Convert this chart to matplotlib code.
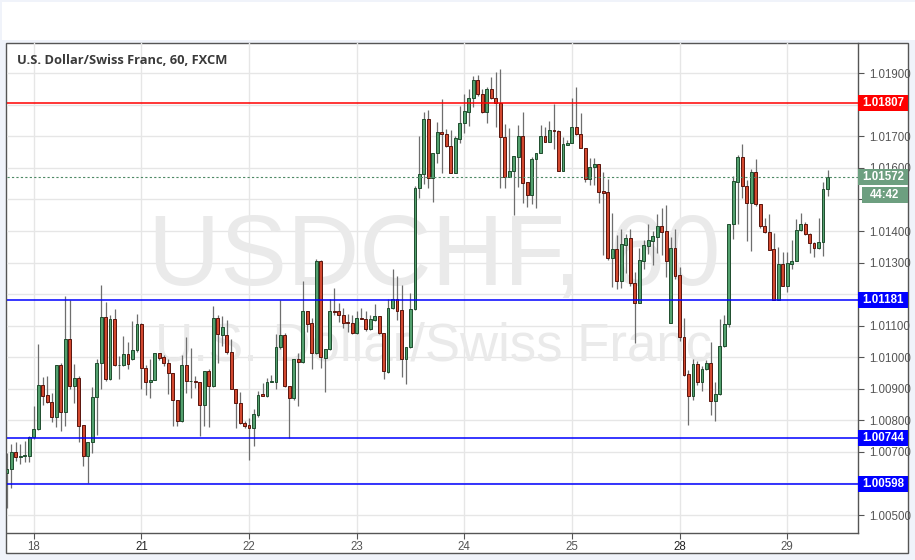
import matplotlib
matplotlib.use("Agg")
import matplotlib.pyplot as plt
import matplotlib.transforms as mtransforms
from matplotlib.patches import Rectangle
import numpy as np

# hourly candles (USDCHF, 60)
opens = [
    1.00632, 1.00647, 1.00701, 1.00685, 1.00687, 1.00687, 1.00746, 1.00774, 1.00912, 1.00880,
    1.00859, 1.00812, 1.00975, 1.00827, 1.01059, 1.00909, 1.00935, 1.00784, 1.00687, 1.00730,
    1.00875, 1.00981, 1.01129, 1.00931, 1.01121, 1.00975, 1.00975, 1.01009, 1.00994, 1.01023,
    1.01105, 1.00967, 1.00920, 1.00928, 1.01013, 1.01000, 1.00983, 1.00949, 1.00863, 1.00798,
    1.00975, 1.00924, 1.00924, 1.00920, 1.00850, 1.00956, 1.00909, 1.01126, 1.01070, 1.01070,
    1.01017, 1.00900, 1.00856, 1.00793, 1.00784, 1.00777, 1.00816, 1.00882, 1.00877, 1.00923,
    1.00923, 1.01034, 1.01072, 1.00909, 1.00871, 1.00994, 1.00985, 1.01148, 1.01108, 1.01013,
    1.01304, 1.00999, 1.01025, 1.01146, 1.01146, 1.01135, 1.01112, 1.01108, 1.01078, 1.01126,
    1.01122, 1.01089, 1.01118, 1.01131, 1.01076, 1.00953, 1.01157, 1.01186, 1.01149, 1.00994,
    1.01034, 1.01154, 1.01535, 1.01580, 1.01754, 1.01567, 1.01646, 1.01714, 1.01708, 1.01670,
    1.01585, 1.01693, 1.01741, 1.01778, 1.01821, 1.01879, 1.01834, 1.01778, 1.01849, 1.01821,
    1.01807, 1.01697, 1.01570, 1.01589, 1.01636, 1.01701, 1.01555, 1.01515, 1.01627, 1.01646,
    1.01701, 1.01683, 1.01720, 1.01716, 1.01591, 1.01674, 1.01678, 1.01731, 1.01708, 1.01662,
    1.01564, 1.01602, 1.01613, 1.01526, 1.01523, 1.01313, 1.01342, 1.01242, 1.01356, 1.01379,
    1.01234, 1.01173, 1.01306, 1.01354, 1.01369, 1.01382, 1.01417, 1.01399, 1.01107, 1.01345,
    1.01260, 1.01063, 1.00947, 1.00876, 1.00979, 1.00920, 1.00962, 1.00981, 1.00860, 1.00884,
    1.01035, 1.01104, 1.01423, 1.01555, 1.01635, 1.01542, 1.01489, 1.01586, 1.01487, 1.01416,
    1.01397, 1.01342, 1.01183, 1.01295, 1.01226, 1.01296, 1.01305, 1.01402, 1.01423, 1.01391,
    1.01361, 1.01347, 1.01365, 1.01532,
]
highs = [
    1.00696, 1.00724, 1.00730, 1.00724, 1.00735, 1.00751, 1.00846, 1.01042, 1.00936, 1.00941,
    1.00888, 1.00975, 1.00983, 1.01195, 1.01182, 1.00978, 1.00941, 1.00784, 1.00730, 1.00907,
    1.00996, 1.01229, 1.01176, 1.01133, 1.01152, 1.01004, 1.01068, 1.01049, 1.01114, 1.01137,
    1.01110, 1.00975, 1.00996, 1.01013, 1.01013, 1.01007, 1.00994, 1.00949, 1.00865, 1.01007,
    1.01063, 1.01029, 1.00941, 1.00920, 1.00956, 1.00962, 1.01161, 1.01133, 1.01131, 1.01118,
    1.01057, 1.00900, 1.00890, 1.00798, 1.00808, 1.00837, 1.00894, 1.00917, 1.00935, 1.00943,
    1.01073, 1.01182, 1.01078, 1.00909, 1.00996, 1.01013, 1.01241, 1.01148, 1.01126, 1.01310,
    1.01308, 1.01025, 1.01184, 1.01221, 1.01173, 1.01156, 1.01136, 1.01133, 1.01147, 1.01156,
    1.01147, 1.01133, 1.01168, 1.01131, 1.01076, 1.01184, 1.01279, 1.01256, 1.01228, 1.01034,
    1.01205, 1.01543, 1.01701, 1.01778, 1.01784, 1.01646, 1.01747, 1.01818, 1.01722, 1.01720,
    1.01701, 1.01796, 1.01834, 1.01849, 1.01892, 1.01895, 1.01849, 1.01856, 1.01889, 1.01904,
    1.01913, 1.01739, 1.01726, 1.01638, 1.01736, 1.01778, 1.01555, 1.01634, 1.01648, 1.01736,
    1.01731, 1.01750, 1.01803, 1.01720, 1.01699, 1.01689, 1.01821, 1.01858, 1.01773, 1.01662,
    1.01630, 1.01630, 1.01613, 1.01587, 1.01565, 1.01457, 1.01387, 1.01405, 1.01390, 1.01405,
    1.01270, 1.01345, 1.01371, 1.01422, 1.01401, 1.01455, 1.01474, 1.01482, 1.01382, 1.01408,
    1.01287, 1.01126, 1.00960, 1.00994, 1.00989, 1.00973, 1.00992, 1.01048, 1.00923, 1.01121,
    1.01133, 1.01423, 1.01576, 1.01642, 1.01677, 1.01563, 1.01597, 1.01628, 1.01487, 1.01442,
    1.01453, 1.01393, 1.01350, 1.01334, 1.01334, 1.01372, 1.01437, 1.01456, 1.01428, 1.01395,
    1.01365, 1.01442, 1.01555, 1.01593,
]
lows = [
    1.00522, 1.00587, 1.00672, 1.00661, 1.00668, 1.00668, 1.00742, 1.00770, 1.00848, 1.00854,
    1.00795, 1.00780, 1.00767, 1.00782, 1.00899, 1.00854, 1.00732, 1.00654, 1.00601, 1.00696,
    1.00753, 1.00899, 1.00925, 1.00928, 1.00971, 1.00931, 1.00973, 1.00964, 1.00992, 1.01017,
    1.00899, 1.00880, 1.00872, 1.00928, 1.00992, 1.00973, 1.00883, 1.00782, 1.00782, 1.00795,
    1.00886, 1.00872, 1.00904, 1.00749, 1.00782, 1.00780, 1.00907, 1.00983, 1.01036, 1.01009,
    1.00898, 1.00777, 1.00787, 1.00777, 1.00674, 1.00719, 1.00812, 1.00877, 1.00875, 1.00922,
    1.00898, 1.01027, 1.00905, 1.00745, 1.00864, 1.00846, 1.00983, 1.01080, 1.00962, 1.01009,
    1.00967, 1.00890, 1.01023, 1.01133, 1.01112, 1.01094, 1.01080, 1.01073, 1.01073, 1.01120,
    1.01082, 1.01087, 1.01115, 1.01073, 1.00932, 1.00951, 1.01154, 1.01118, 1.00939, 1.00914,
    1.01030, 1.01150, 1.01504, 1.01549, 1.01535, 1.01493, 1.01615, 1.01583, 1.01665, 1.01585,
    1.01585, 1.01680, 1.01710, 1.01733, 1.01794, 1.01829, 1.01773, 1.01741, 1.01818, 1.01731,
    1.01535, 1.01535, 1.01570, 1.01450, 1.01539, 1.01490, 1.01477, 1.01485, 1.01472, 1.01646,
    1.01683, 1.01683, 1.01659, 1.01591, 1.01591, 1.01673, 1.01678, 1.01705, 1.01662, 1.01556,
    1.01546, 1.01546, 1.01488, 1.01324, 1.01308, 1.01224, 1.01215, 1.01221, 1.01266, 1.01226,
    1.01044, 1.01173, 1.01281, 1.01327, 1.01292, 1.01329, 1.01324, 1.01255, 1.01107, 1.01247,
    1.01053, 1.00941, 1.00786, 1.00863, 1.00912, 1.00892, 1.00960, 1.00818, 1.00797, 1.00881,
    1.01031, 1.01095, 1.01374, 1.01421, 1.01505, 1.01368, 1.01337, 1.01479, 1.01410, 1.01395,
    1.01340, 1.01183, 1.01183, 1.01226, 1.01207, 1.01281, 1.01305, 1.01400, 1.01386, 1.01331,
    1.01319, 1.01342, 1.01321, 1.01512,
]
closes = [
    1.00647, 1.00701, 1.00685, 1.00687, 1.00689, 1.00746, 1.00774, 1.00912, 1.00878, 1.00859,
    1.00812, 1.00975, 1.00827, 1.01059, 1.00909, 1.00933, 1.00782, 1.00687, 1.00730, 1.00875,
    1.00981, 1.01129, 1.00931, 1.01121, 1.00975, 1.00975, 1.01009, 1.00979, 1.01023, 1.01105,
    1.00967, 1.00922, 1.00928, 1.01013, 1.00998, 1.00983, 1.00949, 1.00863, 1.00798, 1.00975,
    1.00924, 1.00924, 1.00922, 1.00850, 1.00956, 1.00909, 1.01126, 1.01073, 1.01097, 1.01017,
    1.00900, 1.00854, 1.00793, 1.00782, 1.00777, 1.00819, 1.00881, 1.00877, 1.00923, 1.00923,
    1.01034, 1.01072, 1.00909, 1.00871, 1.00994, 1.00985, 1.01148, 1.01106, 1.01013, 1.01304,
    1.01000, 1.01025, 1.01146, 1.01144, 1.01133, 1.01108, 1.01107, 1.01078, 1.01126, 1.01122,
    1.01089, 1.01120, 1.01131, 1.01076, 1.00956, 1.01157, 1.01186, 1.01147, 1.00994, 1.01034,
    1.01154, 1.01536, 1.01580, 1.01754, 1.01567, 1.01646, 1.01714, 1.01708, 1.01668, 1.01585,
    1.01694, 1.01744, 1.01782, 1.01821, 1.01879, 1.01833, 1.01778, 1.01849, 1.01821, 1.01805,
    1.01697, 1.01570, 1.01589, 1.01638, 1.01701, 1.01553, 1.01515, 1.01627, 1.01646, 1.01701,
    1.01683, 1.01720, 1.01716, 1.01591, 1.01676, 1.01680, 1.01731, 1.01708, 1.01662, 1.01564,
    1.01602, 1.01613, 1.01525, 1.01521, 1.01313, 1.01342, 1.01242, 1.01358, 1.01379, 1.01234,
    1.01173, 1.01308, 1.01356, 1.01371, 1.01384, 1.01417, 1.01397, 1.01306, 1.01345, 1.01257,
    1.01063, 1.00945, 1.00876, 1.00979, 1.00920, 1.00962, 1.00981, 1.00860, 1.00884, 1.01035,
    1.01104, 1.01423, 1.01558, 1.01635, 1.01542, 1.01489, 1.01586, 1.01487, 1.01416, 1.01397,
    1.01340, 1.01183, 1.01295, 1.01226, 1.01298, 1.01306, 1.01402, 1.01423, 1.01391, 1.01361,
    1.01347, 1.01365, 1.01532, 1.01572,
]

day_labels = ["18", "21", "22", "23", "24", "25", "28", "29"]
day_first_bar = [6, 30, 54, 78, 102, 126, 150, 174]
week_start = ["21", "28"]

levels = [1.01807, 1.01181, 1.00744, 1.00598]
level_colors = ["#ff0000", "#0000ff", "#0000ff", "#0000ff"]
last_price = 1.01572
countdown = "44:42"

W, H = 915, 560
fig = plt.figure(figsize=(W / 100, H / 100), dpi=100)
fig.patch.set_facecolor("#f0f3fa")

def px_box(x0, y0, x1, y1):
    # figure-pixel box (top-left origin) -> figure fraction rect
    return [x0 / W, 1 - y1 / H, (x1 - x0) / W, (y1 - y0) / H]

# white toolbar strip on top, white chart panel (behind the axes)
fig.add_artist(Rectangle((2 / W, 1 - 40 / H), (W - 2) / W, 38 / H, transform=fig.transFigure,
                         facecolor="white", edgecolor="none", zorder=-2))
fig.add_artist(Rectangle((6 / W, 1 - 553 / H), 902 / W, 510 / H, transform=fig.transFigure,
                         facecolor="white", edgecolor="#555555", lw=1.0, zorder=-1))

ax = fig.add_axes(px_box(6.5, 43, 858, 533))
ax.set_facecolor("none")

n = len(opens)
x = np.arange(n)
o = np.array(opens)
c = np.array(closes)
hi = np.array(highs)
lo = np.array(lows)
up = c >= o

green_fill, green_edge = "#53a06e", "#1f4d2e"
red_fill, red_edge = "#d2482f", "#5a140c"

ax.vlines(x, lo, hi, color="#6e6e6e", lw=0.9, zorder=3)
body_bot = np.minimum(o, c)
body_h = np.maximum(np.abs(c - o), 0.000015)
ax.bar(x[up], body_h[up], bottom=body_bot[up], width=0.64, color=green_fill,
       edgecolor=green_edge, linewidth=0.7, zorder=4)
ax.bar(x[~up], body_h[~up], bottom=body_bot[~up], width=0.64, color=red_fill,
       edgecolor=red_edge, linewidth=0.7, zorder=4)

ax.set_xlim(-0.09, 189.8)
ax.set_ylim(1.00443, 1.01996)

# grid
ax.set_xticks(day_first_bar)
ax.set_xticklabels(day_labels)
yt = np.round(np.arange(1.005, 1.0195, 0.001), 3)
hidden = [1.006, 1.012, 1.015, 1.018]  # sit under the price tags
ax.set_yticks(yt)
ax.set_yticklabels(["" if v in hidden else "%.5f" % v for v in yt])
ax.yaxis.tick_right()
ax.grid(True, color="#e6e6e6", lw=1.0, zorder=0)
ax.set_axisbelow(True)
ax.tick_params(axis="both", colors="#555555", labelcolor="#555555", labelsize=8.3,
               length=4, width=0.8, pad=4)
ax.tick_params(axis="x", pad=2)
for lab in ax.get_xticklabels() + ax.get_yticklabels():
    lab.set_fontfamily("Liberation Sans")
for lab in ax.get_xticklabels():
    if lab.get_text() in week_start:
        lab.set_color("#222222")

for side in ["left", "top"]:
    ax.spines[side].set_visible(False)
for side in ["right", "bottom"]:
    ax.spines[side].set_color("#555555")
    ax.spines[side].set_linewidth(1.0)

# watermark
ax.text(0.502, 0.56, "USDCHF, 60", transform=ax.transAxes, ha="center", va="center",
        fontsize=72, color="#eaeaea", family="Liberation Sans", zorder=1)
ax.text(0.502, 0.38, "U.S. Dollar/Swiss Franc", transform=ax.transAxes, ha="center",
        va="center", fontsize=38, color="#eaeaea", family="Liberation Sans", zorder=1)

ax.text(10 / 851, 1 - 17 / 490, "U.S. Dollar/Swiss Franc, 60, FXCM", transform=ax.transAxes,
        ha="left", va="center", fontsize=9.3, color="#3a3a3a", fontweight="bold",
        family="Open Sans", zorder=6)

# support / resistance lines with price tags
trans = mtransforms.blended_transform_factory(ax.transAxes, ax.transData)
box_h = 16 / 31550
axw = 851.5
for lvl, col in zip(levels, level_colors):
    ax.axhline(lvl, color=col, lw=1.1, zorder=5)
    ax.add_patch(Rectangle((1.0, lvl - box_h / 2), 50 / axw, box_h, transform=trans,
                           facecolor=col, edgecolor="none", clip_on=False, zorder=7))
    ax.text(1.0 + 25 / axw, lvl, "%.5f" % lvl, transform=trans, ha="center", va="center",
            color="white", fontsize=8.3, fontweight="bold", family="Liberation Sans",
            clip_on=False, zorder=8)

# last price
ax.axhline(last_price, color="#4f8a66", lw=0.8, ls=(0, (2, 2)), zorder=5)
ax.add_patch(Rectangle((1.0, last_price - box_h / 2), 50 / axw, box_h, transform=trans,
                       facecolor="#6d9f80", edgecolor="none", clip_on=False, zorder=7))
ax.text(1.0 + 25 / axw, last_price, "%.5f" % last_price, transform=trans, ha="center",
        va="center", color="white", fontsize=8.3, fontweight="bold", family="Liberation Sans",
        clip_on=False, zorder=8)
cd_y = last_price - 18 / 31550
ax.add_patch(Rectangle((1.0 + 4 / axw, cd_y - box_h / 2), 46 / axw, box_h, transform=trans,
                       facecolor="#6d9f80", edgecolor="none", clip_on=False, zorder=7))
ax.text(1.0 + 27 / axw, cd_y, countdown, transform=trans, ha="center", va="center",
        color="white", fontsize=8.3, fontweight="bold", family="Liberation Sans",
        clip_on=False, zorder=8)

fig.savefig("out.png", dpi=100, facecolor=fig.get_facecolor())
